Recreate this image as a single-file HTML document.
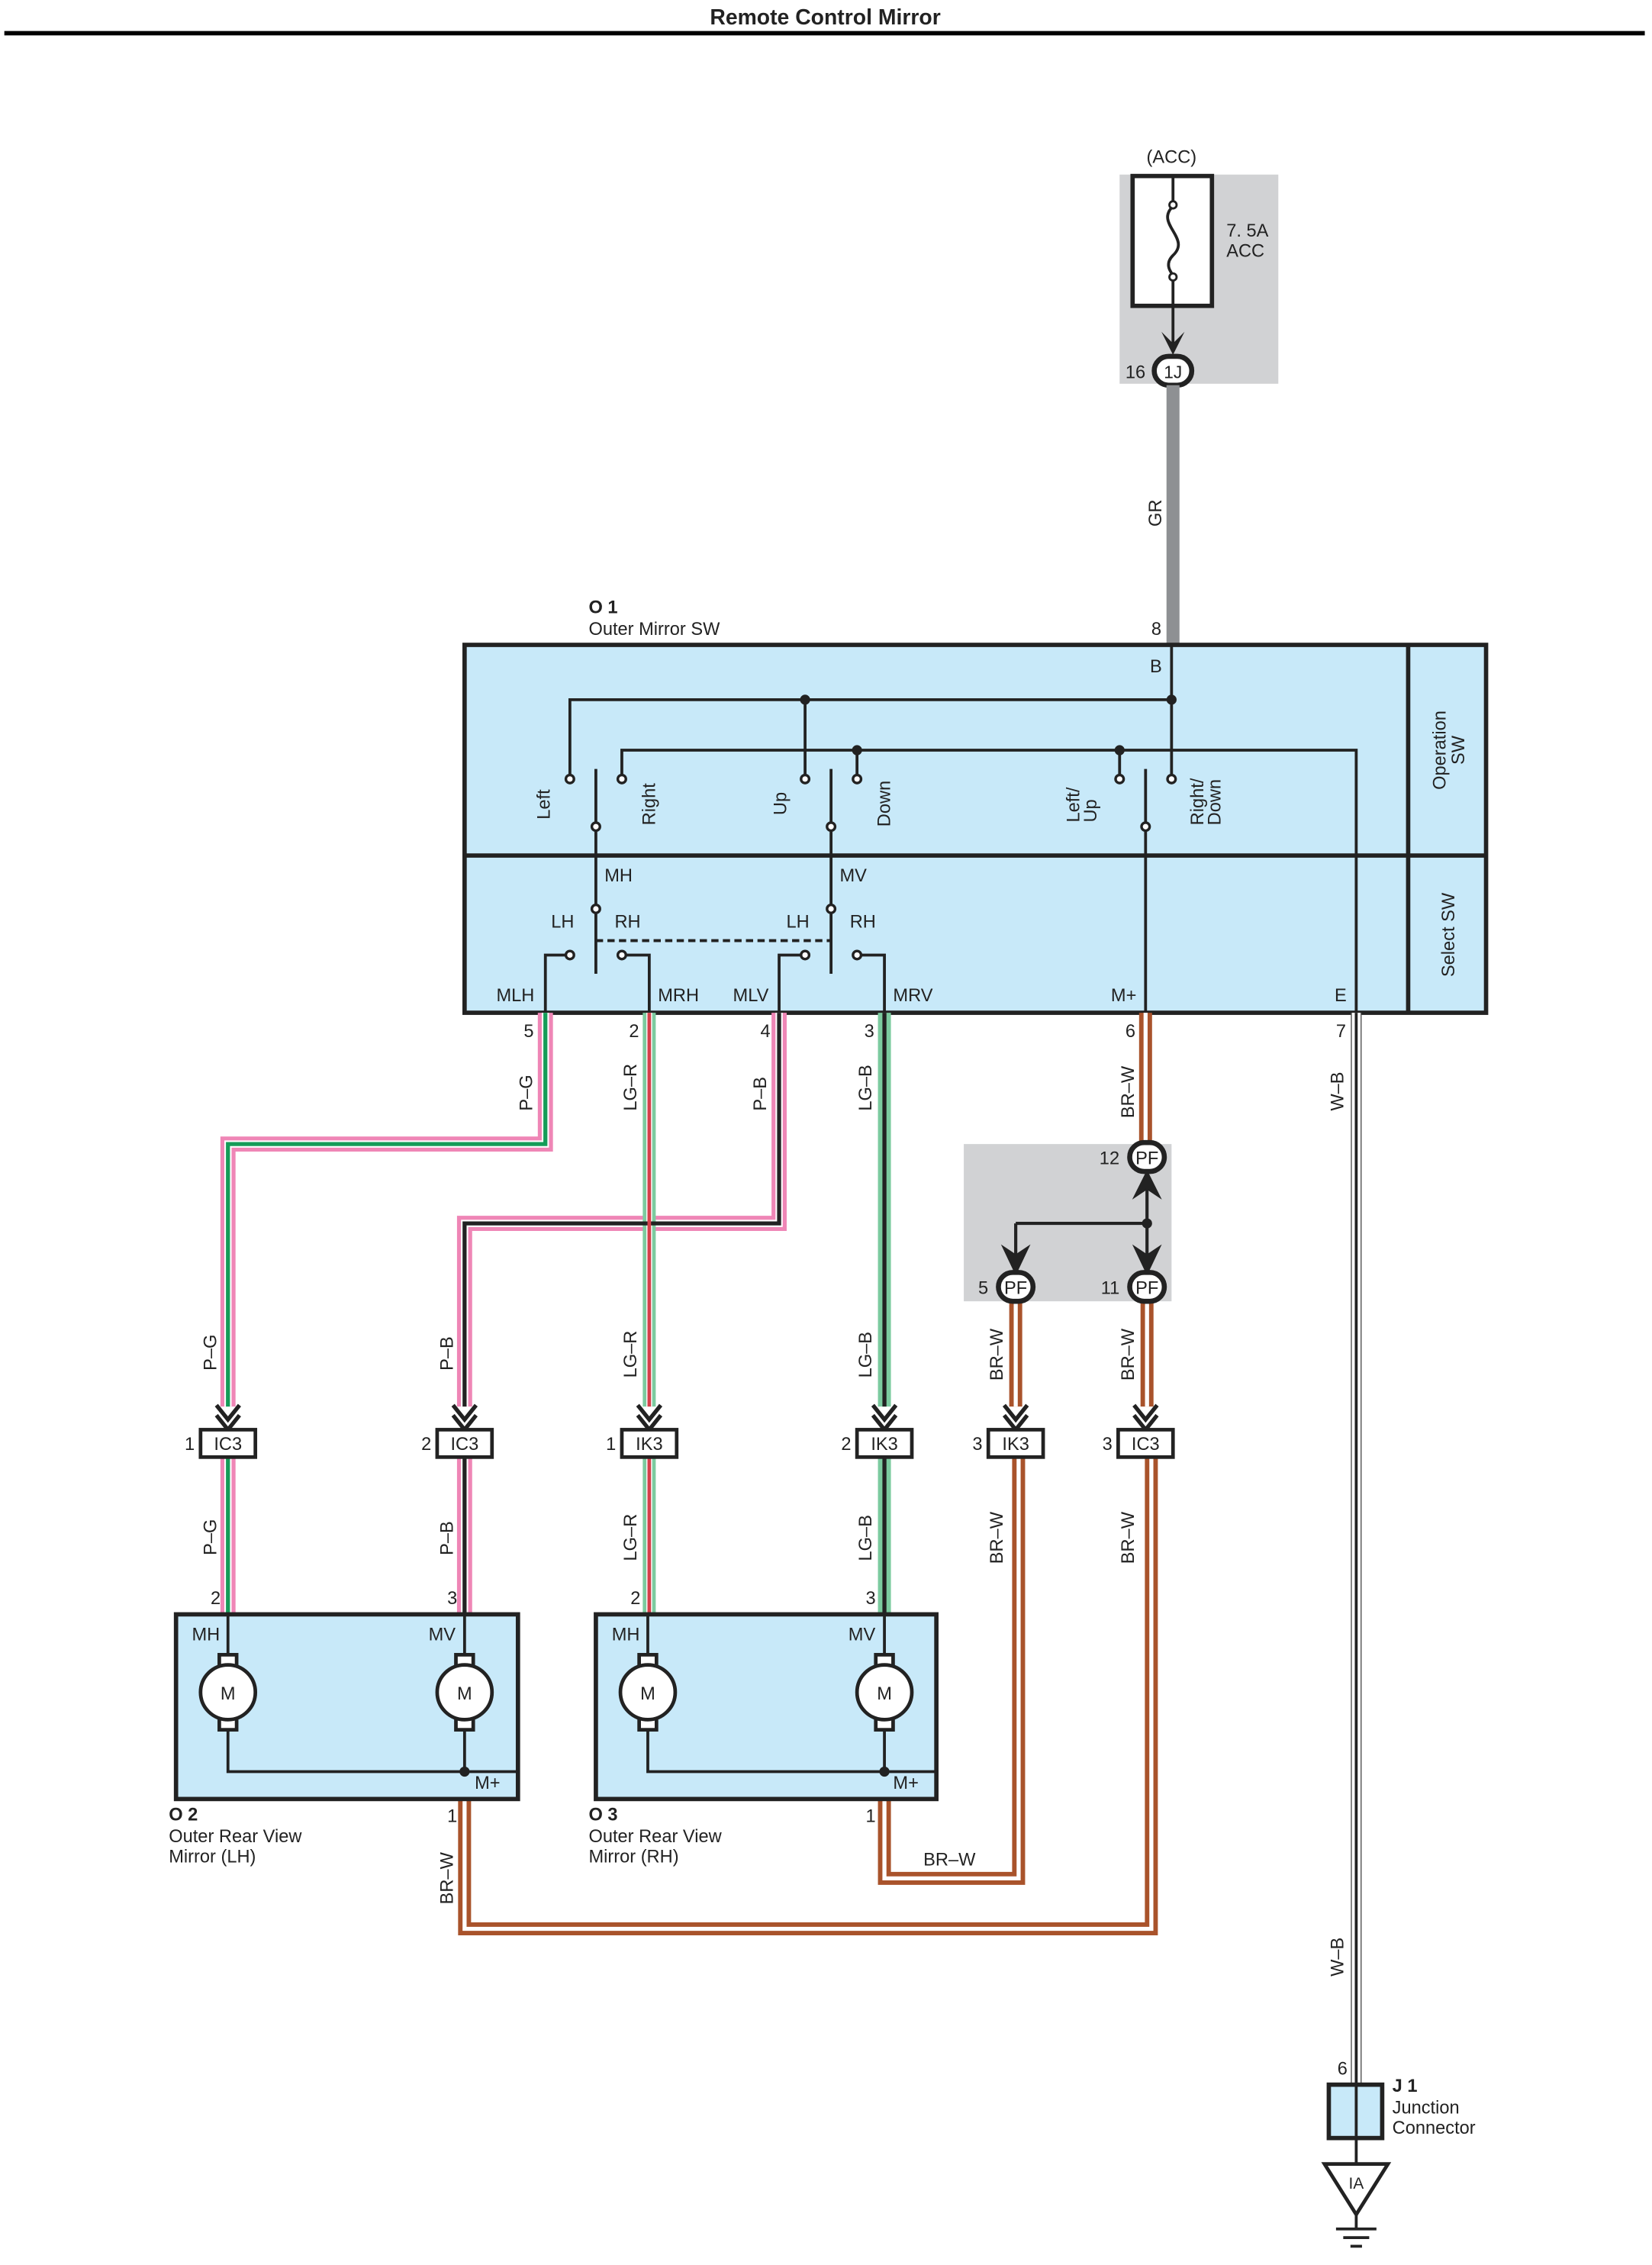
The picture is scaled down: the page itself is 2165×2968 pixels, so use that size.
<!DOCTYPE html>
<html><head><meta charset="utf-8"><style>
html,body{margin:0;padding:0;background:#fff;}
svg{display:block;}
text{font-family:"Liberation Sans",sans-serif;font-size:12.5px;fill:#222;}
</style></head><body>
<svg width="2165" height="2968" viewBox="0 0 1145 1570" preserveAspectRatio="none" xmlns="http://www.w3.org/2000/svg">
<rect width="1145" height="1570" fill="#fff"/>
<text x="572" y="17" text-anchor="middle" style="font-weight:bold;font-size:15px">Remote Control Mirror</text>
<line x1="3" y1="23" x2="1140" y2="23" stroke="#000" stroke-width="3"/>

<!-- fuse -->
<rect x="776" y="121" width="110" height="145" fill="#d1d2d4"/>
<text x="812" y="113" text-anchor="middle">(ACC)</text>
<rect x="785" y="122" width="55" height="90" fill="#fff" stroke="#222" stroke-width="3"/>
<line x1="813" y1="122" x2="813" y2="140" stroke="#222" stroke-width="2"/>
<line x1="813" y1="194" x2="813" y2="212" stroke="#222" stroke-width="2"/>
<path d="M813 143 C800 155,826 165,813 177 C806 184,813 190,813 191" fill="none" stroke="#222" stroke-width="2"/>
<circle cx="813" cy="142" r="2.5" fill="#fff" stroke="#222" stroke-width="1.5"/>
<circle cx="813" cy="192" r="2.5" fill="#fff" stroke="#222" stroke-width="1.5"/>
<text x="850" y="164">7. 5A</text><text x="850" y="178">ACC</text>
<line x1="813" y1="212" x2="813" y2="240" stroke="#222" stroke-width="2"/>
<path d="M805 230 L813 246 L821 230 L813 238 Z" fill="#222"/>
<rect x="800" y="247" width="26" height="20" rx="10" fill="#fff" stroke="#222" stroke-width="3.5"/>
<text x="813" y="262" text-anchor="middle" style="font-size:12px">1J</text>
<text x="780" y="262">16</text>
<!-- GR -->
<line x1="813" y1="267" x2="813" y2="447" stroke="#8e9093" stroke-width="9"/>
<text transform="translate(805,365) rotate(-90)">GR</text>

<!-- O1 -->
<text x="408" y="425" style="font-weight:bold">O 1</text>
<text x="408" y="440">Outer Mirror SW</text>
<text x="798" y="440">8</text>
<rect x="322" y="447" width="708" height="255" fill="#c8e9f9" stroke="#222" stroke-width="3"/>
<line x1="976" y1="447" x2="976" y2="702" stroke="#222" stroke-width="3"/>
<line x1="322" y1="593" x2="1030" y2="593" stroke="#222" stroke-width="3"/>
<text transform="translate(1002,520) rotate(-90)" text-anchor="middle">Operation</text>
<text transform="translate(1015,520) rotate(-90)" text-anchor="middle">SW</text>
<text transform="translate(1008,648) rotate(-90)" text-anchor="middle">Select SW</text>
<text x="797" y="466">B</text>
<g stroke="#222" stroke-width="2" fill="none">
<path d="M812 447 V540"/>
<path d="M395 540 V485 H812"/>
<path d="M558 485 V540"/>
<path d="M431 540 V520 H940 V702"/>
<path d="M594 520 V540"/><path d="M776 520 V540"/>
<path d="M413 533 V675"/><path d="M576 533 V675"/><path d="M794 533 V702"/>
<path d="M395 662 H378 V702"/><path d="M431 662 H450 V702"/>
<path d="M558 662 H540 V702"/><path d="M594 662 H613 V702"/>
<path d="M413 652 H576" stroke-dasharray="5,3"/>
</g>
<g fill="#222"><circle cx="558" cy="485" r="3.5"/><circle cx="812" cy="485" r="3.5"/><circle cx="594" cy="520" r="3.5"/><circle cx="776" cy="520" r="3.5"/></g>
<g fill="#fff" stroke="#222" stroke-width="1.8">
<circle cx="395" cy="540" r="2.8"/><circle cx="431" cy="540" r="2.8"/><circle cx="558" cy="540" r="2.8"/><circle cx="594" cy="540" r="2.8"/><circle cx="776" cy="540" r="2.8"/><circle cx="812" cy="540" r="2.8"/>
<circle cx="413" cy="573" r="2.8"/><circle cx="576" cy="573" r="2.8"/><circle cx="794" cy="573" r="2.8"/>
<circle cx="413" cy="630" r="2.8"/><circle cx="576" cy="630" r="2.8"/>
<circle cx="395" cy="662" r="2.8"/><circle cx="431" cy="662" r="2.8"/><circle cx="558" cy="662" r="2.8"/><circle cx="594" cy="662" r="2.8"/>
</g>
<text transform="translate(381,568) rotate(-90)">Left</text>
<text transform="translate(454,572) rotate(-90)">Right</text>
<text transform="translate(545,565) rotate(-90)">Up</text>
<text transform="translate(617,573) rotate(-90)">Down</text>
<text transform="translate(748,570) rotate(-90)">Left/</text>
<text transform="translate(760,570) rotate(-90)">Up</text>
<text transform="translate(834,572) rotate(-90)">Right/</text>
<text transform="translate(846,572) rotate(-90)">Down</text>
<text x="419" y="611">MH</text><text x="582" y="611">MV</text>
<text x="382" y="643">LH</text><text x="426" y="643">RH</text>
<text x="545" y="643">LH</text><text x="589" y="643">RH</text>
<text x="344" y="694">MLH</text><text x="456" y="694">MRH</text><text x="508" y="694">MLV</text><text x="619" y="694">MRV</text>
<text x="770" y="694">M+</text><text x="925" y="694">E</text>
<text x="363" y="719">5</text><text x="436" y="719">2</text><text x="527" y="719">4</text><text x="599" y="719">3</text><text x="780" y="719">6</text><text x="926" y="719">7</text>

<!-- wires -->
<g fill="none" stroke-linejoin="miter">
<g stroke="#ef86b6" stroke-width="10.5">
<path d="M378 702 V793 H158 V975"/><path d="M540 702 V848 H322 V975"/>
<path d="M158 1010 V1119"/><path d="M322 1010 V1119"/>
</g>
<g stroke="#fff" stroke-width="5">
<path d="M378 702 V793 H158 V975"/><path d="M540 702 V848 H322 V975"/>
<path d="M158 1010 V1119"/><path d="M322 1010 V1119"/>
</g>
<g stroke="#7ccb9f" stroke-width="9"><path d="M450 702 V975"/><path d="M613 702 V975"/><path d="M450 1010 V1119"/><path d="M613 1010 V1119"/></g>
<g stroke="#fff" stroke-width="4"><path d="M450 702 V975"/><path d="M450 1010 V1119"/></g>
<g stroke="#149c58" stroke-width="2.8"><path d="M378 702 V793 H158 V975"/><path d="M158 1010 V1119"/></g>
<g stroke="#222" stroke-width="2.8"><path d="M540 702 V848 H322 V975"/><path d="M322 1010 V1119"/><path d="M613 702 V975"/><path d="M613 1010 V1119"/></g>
<g stroke="#d6404a" stroke-width="2.5"><path d="M450 702 V975"/><path d="M450 1010 V1119"/></g>
<!-- brown -->
<g stroke="#a9532b" stroke-width="9">
<path d="M794 702 V793"/><path d="M795 902 V975"/><path d="M704 902 V975"/>
<path d="M322 1247 V1337 H798 V1010"/><path d="M613 1247 V1302 H706 V1010"/>
</g>
<g stroke="#fff" stroke-width="2.8">
<path d="M794 702 V793"/><path d="M795 902 V975"/><path d="M704 902 V975"/>
<path d="M322 1247 V1337 H798 V1010"/><path d="M613 1247 V1302 H706 V1010"/>
</g>
<!-- W-B -->
<path d="M940 702 V1445" stroke="#555" stroke-width="7.5"/>
<path d="M940 702 V1445" stroke="#fff" stroke-width="6"/>
<path d="M940 702 V1445" stroke="#222" stroke-width="2"/>
</g>
<g>
<text transform="translate(369,770) rotate(-90)">P–G</text>
<text transform="translate(441,770) rotate(-90)">LG–R</text>
<text transform="translate(531,770) rotate(-90)">P–B</text>
<text transform="translate(604,770) rotate(-90)">LG–B</text>
<text transform="translate(786,775) rotate(-90)">BR–W</text>
<text transform="translate(931,770) rotate(-90)">W–B</text>
<text transform="translate(150,950) rotate(-90)">P–G</text>
<text transform="translate(314,950) rotate(-90)">P–B</text>
<text transform="translate(441,955) rotate(-90)">LG–R</text>
<text transform="translate(604,955) rotate(-90)">LG–B</text>
<text transform="translate(695,957) rotate(-90)">BR–W</text>
<text transform="translate(786,957) rotate(-90)">BR–W</text>
<text transform="translate(150,1078) rotate(-90)">P–G</text>
<text transform="translate(314,1078) rotate(-90)">P–B</text>
<text transform="translate(441,1082) rotate(-90)">LG–R</text>
<text transform="translate(604,1082) rotate(-90)">LG–B</text>
<text transform="translate(695,1084) rotate(-90)">BR–W</text>
<text transform="translate(786,1084) rotate(-90)">BR–W</text>
<text transform="translate(314,1320) rotate(-90)">BR–W</text>
<text x="640" y="1293">BR–W</text>
<text transform="translate(931,1370) rotate(-90)">W–B</text>
</g>

<!-- PF box -->
<rect x="668" y="793" width="144" height="109" fill="#d1d2d4"/>
<line x1="795" y1="811" x2="795" y2="884" stroke="#222" stroke-width="2.2"/>
<path d="M704 848 H795 M704 848 V876" stroke="#222" stroke-width="2.2" fill="none"/>
<circle cx="795" cy="848" r="3.5" fill="#222"/>
<path d="M786 830 L795 812 L804 830 L795 824Z" fill="#222" stroke="#222" stroke-width="1"/>
<path d="M695 864 L704 883 L713 864 L704 870Z" fill="#222" stroke="#222" stroke-width="1"/>
<path d="M786 864 L795 883 L804 864 L795 870Z" fill="#222" stroke="#222" stroke-width="1"/>
<g fill="#fff" stroke="#222" stroke-width="3.5">
<rect x="783" y="792" width="24" height="20" rx="10"/><rect x="692" y="882" width="24" height="20" rx="10"/><rect x="783" y="882" width="24" height="20" rx="10"/>
</g>
<g style="font-size:12px" text-anchor="middle"><text x="795" y="807">PF</text><text x="704" y="897">PF</text><text x="795" y="897">PF</text></g>
<text x="762" y="807">12</text><text x="678" y="897">5</text><text x="763" y="897">11</text>

<!-- arrowheads into connectors -->
<g fill="none" stroke="#222" stroke-width="2.8">
<path d="M150 974 L158 984 L166 974 M150 981 L158 991 L166 981"/>
<path d="M314 974 L322 984 L330 974 M314 981 L322 991 L330 981"/>
<path d="M442 974 L450 984 L458 974 M442 981 L450 991 L458 981"/>
<path d="M605 974 L613 984 L621 974 M605 981 L613 991 L621 981"/>
<path d="M696 974 L704 984 L712 974 M696 981 L704 991 L712 981"/>
<path d="M786 974 L794 984 L802 974 M786 981 L794 991 L802 981"/>
</g>
<g fill="#fff" stroke="#222" stroke-width="2.5">
<rect x="139" y="991" width="38" height="19"/><rect x="303" y="991" width="38" height="19"/><rect x="431" y="991" width="38" height="19"/><rect x="594" y="991" width="38" height="19"/><rect x="685" y="991" width="38" height="19"/><rect x="775" y="991" width="38" height="19"/>
</g>
<g style="font-size:11.5px" text-anchor="middle">
<text x="158" y="1005">IC3</text><text x="322" y="1005">IC3</text><text x="450" y="1005">IK3</text><text x="613" y="1005">IK3</text><text x="704" y="1005">IK3</text><text x="794" y="1005">IC3</text>
</g>
<text x="128" y="1005">1</text><text x="292" y="1005">2</text><text x="420" y="1005">1</text><text x="583" y="1005">2</text><text x="674" y="1005">3</text><text x="764" y="1005">3</text>

<!-- mirrors -->
<text x="146" y="1112">2</text><text x="310" y="1112">3</text><text x="437" y="1112">2</text><text x="600" y="1112">3</text>
<g fill="#c8e9f9" stroke="#222" stroke-width="3">
<rect x="122" y="1119" width="237" height="128"/><rect x="413" y="1119" width="236" height="128"/>
</g>
<text x="133" y="1137">MH</text><text x="297" y="1137">MV</text><text x="424" y="1137">MH</text><text x="588" y="1137">MV</text>
<g fill="none" stroke="#222" stroke-width="2">
<path d="M158 1119 V1228 H322 V1119"/><path d="M322 1228 H359"/>
<path d="M449 1119 V1228 H613 V1119"/><path d="M613 1228 H649"/>
</g>
<g stroke="#222" stroke-width="2.5">
<g fill="#fff"><rect x="152" y="1147" width="12" height="10"/><rect x="152" y="1189" width="12" height="10"/><circle cx="158" cy="1173" r="19"/></g>
<g fill="#fff"><rect x="316" y="1147" width="12" height="10"/><rect x="316" y="1189" width="12" height="10"/><circle cx="322" cy="1173" r="19"/></g>
<g fill="#fff"><rect x="443" y="1147" width="12" height="10"/><rect x="443" y="1189" width="12" height="10"/><circle cx="449" cy="1173" r="19"/></g>
<g fill="#fff"><rect x="607" y="1147" width="12" height="10"/><rect x="607" y="1189" width="12" height="10"/><circle cx="613" cy="1173" r="19"/></g>
</g>
<g text-anchor="middle"><text x="158" y="1178">M</text><text x="322" y="1178">M</text><text x="449" y="1178">M</text><text x="613" y="1178">M</text></g>
<circle cx="322" cy="1228" r="3.5" fill="#222"/><circle cx="613" cy="1228" r="3.5" fill="#222"/>
<text x="329" y="1240">M+</text><text x="619" y="1240">M+</text>
<text x="310" y="1263">1</text><text x="600" y="1263">1</text>
<text x="117" y="1262" style="font-weight:bold">O 2</text><text x="117" y="1277">Outer Rear View</text><text x="117" y="1291">Mirror (LH)</text>
<text x="408" y="1262" style="font-weight:bold">O 3</text><text x="408" y="1277">Outer Rear View</text><text x="408" y="1291">Mirror (RH)</text>

<!-- J1 -->
<text x="927" y="1438">6</text>
<rect x="921" y="1445" width="37" height="37" fill="#c8e9f9" stroke="#222" stroke-width="3"/>
<line x1="940" y1="1445" x2="940" y2="1482" stroke="#222" stroke-width="2"/>
<text x="965" y="1450" style="font-weight:bold">J 1</text><text x="965" y="1465">Junction</text><text x="965" y="1479">Connector</text>
<line x1="940" y1="1482" x2="940" y2="1500" stroke="#222" stroke-width="2"/>
<path d="M918 1500 H962 L940 1535 Z" fill="#fff" stroke="#222" stroke-width="2.5"/>
<text x="940" y="1517" text-anchor="middle" style="font-size:11px">IA</text>
<g stroke="#222" stroke-width="2"><line x1="940" y1="1535" x2="940" y2="1545"/><line x1="926" y1="1545" x2="954" y2="1545"/><line x1="931" y1="1551" x2="949" y2="1551"/><line x1="936" y1="1557" x2="944" y2="1557"/></g>
</svg>
</body></html>
